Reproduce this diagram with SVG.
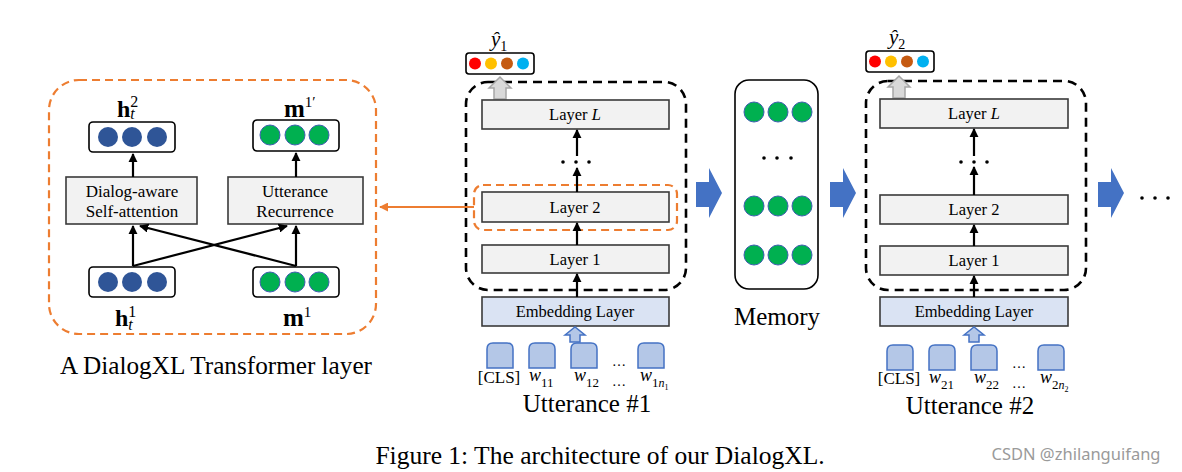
<svg xmlns="http://www.w3.org/2000/svg" width="1182" height="472" viewBox="0 0 1182 472">
<style>
.t{font-family:"Liberation Serif","Times New Roman",serif;fill:#000}
.lay{fill:#f2f2f2;stroke:#3a3a3a;stroke-width:1.6}
.emb{fill:#dae3f3;stroke:#3a3a3a;stroke-width:1.6}
.vec{fill:#fff;stroke:#000;stroke-width:1.6}
.bl{fill:#2f5597}
.gr{fill:#00b050;stroke:#3f5fb0;stroke-width:1}
.ar{stroke:#000;stroke-width:2.2;fill:none;marker-end:url(#ah)}
.bd{fill:none;stroke:#000;stroke-width:2.6;stroke-dasharray:9 6}
.od{fill:none;stroke:#ed7d31;stroke-width:2.2;stroke-dasharray:8 5}
.blk{fill:#4472c4}
.tok{fill:#b4c7e7;stroke:#4472c4;stroke-width:1.5}
.ga{fill:#d9d9d9;stroke:#a6a6a6;stroke-width:1.5}
</style>
<defs>
<marker id="ah" viewBox="0 0 10 10" refX="9" refY="5" markerWidth="4.2" markerHeight="4.2" orient="auto" markerUnits="strokeWidth"><path d="M0,0 L10,5 L0,10 Z" fill="#000"/></marker>
<marker id="oh" viewBox="0 0 10 10" refX="9" refY="5" markerWidth="4.5" markerHeight="4.5" orient="auto" markerUnits="strokeWidth"><path d="M0,0 L10,5 L0,10 Z" fill="#ed7d31"/></marker>
<path id="tk" class="tok" d="M0,25 V6 Q0,0 6,0 H20 Q26,0 26,6 V25 Z"/>
<g id="yv">
<rect x="0" y="0" width="68" height="21" rx="3" fill="#fff" stroke="#000" stroke-width="1.6"/>
<circle cx="9" cy="10.5" r="6" fill="#ff0000"/>
<circle cx="25" cy="10.5" r="6" fill="#ffc000"/>
<circle cx="41" cy="10.5" r="6" fill="#c55a11"/>
<circle cx="57" cy="10.5" r="6" fill="#00b0f0"/>
</g>
<path id="bigarrow" class="blk" d="M0,14 H13 V0 L26,25 L13,50 V39 H0 Z"/>
</defs>

<!-- Left panel: A DialogXL Transformer layer -->
<g id="transformer-layer">
<rect x="49" y="80" width="327" height="254" rx="30" class="od"/>
<text class="t" x="216" y="374" font-size="24.5" text-anchor="middle" textLength="312" lengthAdjust="spacingAndGlyphs">A DialogXL Transformer layer</text>
</g>
<g id="h2">
<rect x="89" y="122" width="86" height="30" rx="4" class="vec"/>
<circle class="bl" cx="108" cy="137" r="10"/><circle class="bl" cx="132" cy="137" r="10"/><circle class="bl" cx="157" cy="137" r="10"/>
<text class="t" x="117" y="117" font-size="24" font-weight="bold">h<tspan font-weight="normal" font-size="16" dy="-10">2</tspan><tspan font-weight="normal" font-size="16" font-style="italic" dx="-8" dy="12">t</tspan></text>
</g>
<g id="m1p">
<rect x="253" y="120" width="86" height="31" rx="4" class="vec"/>
<circle class="gr" cx="270" cy="135" r="10"/><circle class="gr" cx="295" cy="135" r="10"/><circle class="gr" cx="319" cy="135" r="10"/>
<text class="t" x="284" y="117" font-size="25" font-weight="bold">m<tspan font-weight="normal" font-size="15" dy="-10">1′</tspan></text>
</g>
<g id="dialog-attn">
<rect x="66" y="177" width="131" height="47" class="lay"/>
<text class="t" x="132" y="197" font-size="17" text-anchor="middle">Dialog-aware</text>
<text class="t" x="132" y="217" font-size="17" text-anchor="middle">Self-attention</text>
</g>
<g id="utt-rec">
<rect x="228" y="177" width="135" height="47" class="lay"/>
<text class="t" x="295" y="197" font-size="17" text-anchor="middle">Utterance</text>
<text class="t" x="295" y="217" font-size="17" text-anchor="middle">Recurrence</text>
</g>
<g id="h1">
<rect x="89" y="267" width="86" height="30" rx="4" class="vec"/>
<circle class="bl" cx="108" cy="282" r="10"/><circle class="bl" cx="132" cy="282" r="10"/><circle class="bl" cx="157" cy="282" r="10"/>
<text class="t" x="115" y="326" font-size="24" font-weight="bold">h<tspan font-weight="normal" font-size="16" dy="-9">1</tspan><tspan font-weight="normal" font-size="16" font-style="italic" dx="-8" dy="13">t</tspan></text>
</g>
<g id="m1">
<rect x="253" y="267" width="86" height="30" rx="4" class="vec"/>
<circle class="gr" cx="270" cy="282" r="10"/><circle class="gr" cx="295" cy="282" r="10"/><circle class="gr" cx="319" cy="282" r="10"/>
<text class="t" x="283" y="326" font-size="25" font-weight="bold">m<tspan font-weight="normal" font-size="15" dy="-9">1</tspan></text>
</g>

<!-- Middle panel: Utterance #1 -->
<g id="utt1-block">
<rect x="466" y="82" width="220" height="208" rx="22" class="bd"/>
</g>
<g id="y1">
<use href="#yv" x="466" y="53"/>
<text class="t" x="491" y="46" font-size="21" font-style="italic">ŷ<tspan font-style="normal" font-size="14" dy="5">1</tspan></text>
<path class="ga" d="M489,88 L500,77 L511,88 H506 V99 H494 V88 Z"/>
</g>
<g id="u1-layerL"><rect x="482" y="100" width="187" height="29" class="lay"/>
<text class="t" x="575" y="120" font-size="16.5" text-anchor="middle">Layer <tspan font-style="italic">L</tspan></text></g>
<g id="u1-dots"><circle cx="563" cy="162" r="1.8"/><circle cx="576" cy="162" r="1.8"/><circle cx="589" cy="162" r="1.8"/></g>
<g id="u1-layer2"><rect x="474" y="185" width="203" height="45" rx="9" class="od"/>
<rect x="482" y="192" width="187" height="30" class="lay"/>
<text class="t" x="575" y="213" font-size="16.5" text-anchor="middle">Layer 2</text></g>
<g id="u1-layer1"><rect x="482" y="245" width="187" height="28" class="lay"/>
<text class="t" x="575" y="265" font-size="16.5" text-anchor="middle">Layer 1</text></g>
<g id="u1-emb"><rect x="482" y="297" width="187" height="29" class="emb"/>
<text class="t" x="575" y="317" font-size="16.5" text-anchor="middle">Embedding Layer</text>
<path class="tok" d="M565,335 L575,327 L585,335 H580 V342 H570 V335 Z"/></g>
<g id="u1-tokens">
<use href="#tk" x="487" y="343"/><use href="#tk" x="529" y="343"/><use href="#tk" x="571" y="343"/><use href="#tk" x="638" y="343"/>
<text class="t" x="499" y="383" font-size="17" text-anchor="middle">[CLS]</text>
<text class="t" x="529" y="381" font-size="18"><tspan font-style="italic">w</tspan><tspan dy="6" font-size="13">11</tspan></text>
<text class="t" x="574" y="381" font-size="18"><tspan font-style="italic">w</tspan><tspan dy="6" font-size="13">12</tspan></text>
<text class="t" x="640" y="381" font-size="18"><tspan font-style="italic">w</tspan><tspan dy="6" font-size="13">1</tspan><tspan font-size="12" font-style="italic">n</tspan><tspan dy="3" font-size="8">1</tspan></text>
<text class="t" x="619" y="366" font-size="14" text-anchor="middle">…</text>
<text class="t" x="619" y="386" font-size="14" text-anchor="middle">…</text>
<text class="t" x="587" y="412" font-size="25" text-anchor="middle">Utterance #1</text>
</g>

<!-- Memory -->
<g id="memory">
<rect x="735" y="80" width="83" height="209" rx="14" fill="#fff" stroke="#000" stroke-width="1.6"/>
<circle class="gr" cx="754" cy="112" r="10"/><circle class="gr" cx="778" cy="112" r="10"/><circle class="gr" cx="802" cy="112" r="10"/>
<circle cx="764" cy="158" r="1.8"/><circle cx="777" cy="158" r="1.8"/><circle cx="791" cy="158" r="1.8"/>
<circle class="gr" cx="754" cy="206" r="10"/><circle class="gr" cx="778" cy="206" r="10"/><circle class="gr" cx="802" cy="206" r="10"/>
<circle class="gr" cx="754" cy="255" r="10"/><circle class="gr" cx="778" cy="255" r="10"/><circle class="gr" cx="802" cy="255" r="10"/>
<text class="t" x="777" y="325" font-size="25" text-anchor="middle">Memory</text>
</g>

<!-- Right panel: Utterance #2 -->
<g id="utt2-block">
<rect x="866" y="81" width="220" height="209" rx="22" class="bd"/>
</g>
<g id="y2">
<use href="#yv" x="866" y="51"/>
<text class="t" x="889" y="44" font-size="21" font-style="italic">ŷ<tspan font-style="normal" font-size="14" dy="5">2</tspan></text>
<path class="ga" d="M888,87 L899,76 L910,87 H905 V98 H893 V87 Z"/>
</g>
<g id="u2-layerL"><rect x="880" y="99" width="188" height="29" class="lay"/>
<text class="t" x="974" y="119" font-size="16.5" text-anchor="middle">Layer <tspan font-style="italic">L</tspan></text></g>
<g id="u2-dots"><circle cx="961" cy="162" r="1.8"/><circle cx="974" cy="162" r="1.8"/><circle cx="987" cy="162" r="1.8"/></g>
<g id="u2-layer2"><rect x="880" y="195" width="188" height="29" class="lay"/>
<text class="t" x="974" y="215" font-size="16.5" text-anchor="middle">Layer 2</text></g>
<g id="u2-layer1"><rect x="880" y="246" width="188" height="29" class="lay"/>
<text class="t" x="974" y="266" font-size="16.5" text-anchor="middle">Layer 1</text></g>
<g id="u2-emb"><rect x="880" y="297" width="188" height="29" class="emb"/>
<text class="t" x="974" y="317" font-size="16.5" text-anchor="middle">Embedding Layer</text>
<path class="tok" d="M964,335 L974,327 L984,335 H979 V342 H969 V335 Z"/></g>
<g id="u2-tokens">
<use href="#tk" x="887" y="345"/><use href="#tk" x="929" y="345"/><use href="#tk" x="971" y="345"/><use href="#tk" x="1038" y="345"/>
<text class="t" x="899" y="384" font-size="17" text-anchor="middle">[CLS]</text>
<text class="t" x="929" y="383" font-size="18"><tspan font-style="italic">w</tspan><tspan dy="6" font-size="13">21</tspan></text>
<text class="t" x="974" y="383" font-size="18"><tspan font-style="italic">w</tspan><tspan dy="6" font-size="13">22</tspan></text>
<text class="t" x="1040" y="383" font-size="18"><tspan font-style="italic">w</tspan><tspan dy="6" font-size="13">2</tspan><tspan font-size="12" font-style="italic">n</tspan><tspan dy="3" font-size="8">2</tspan></text>
<text class="t" x="1019" y="368" font-size="14" text-anchor="middle">…</text>
<text class="t" x="1019" y="388" font-size="14" text-anchor="middle">…</text>
<text class="t" x="970" y="414" font-size="25" text-anchor="middle">Utterance #2</text>
</g>

<g id="tail-dots"><circle cx="1142" cy="198" r="1.8"/><circle cx="1155" cy="198" r="1.8"/><circle cx="1168" cy="198" r="1.8"/></g>

<!-- Connectors -->
<g id="connectors">
<line class="ar" x1="133" y1="266" x2="133" y2="226"/>
<line class="ar" x1="296" y1="266" x2="296" y2="226"/>
<line class="ar" x1="133" y1="266" x2="287" y2="226"/>
<line class="ar" x1="296" y1="266" x2="140" y2="226"/>
<line class="ar" x1="133" y1="177" x2="133" y2="154"/>
<line class="ar" x1="296" y1="177" x2="296" y2="153"/>
<line x1="474" y1="207" x2="380" y2="207" stroke="#ed7d31" stroke-width="2" marker-end="url(#oh)"/>
<line class="ar" x1="577" y1="297" x2="577" y2="274"/>
<line class="ar" x1="577" y1="245" x2="577" y2="223"/>
<line class="ar" x1="577" y1="192" x2="577" y2="168"/>
<line class="ar" x1="577" y1="156" x2="577" y2="130"/>
<line class="ar" x1="974" y1="297" x2="974" y2="276"/>
<line class="ar" x1="974" y1="246" x2="974" y2="225"/>
<line class="ar" x1="974" y1="195" x2="974" y2="167"/>
<line class="ar" x1="974" y1="156" x2="974" y2="129"/>
<use href="#bigarrow" x="696" y="168"/>
<use href="#bigarrow" x="830" y="168"/>
<use href="#bigarrow" x="1098" y="168"/>
</g>

<text class="t" x="600" y="464" font-size="25.5" text-anchor="middle">Figure 1: The architecture of our DialogXL.</text>
<text x="1076" y="460" font-family="'Noto Sans','Liberation Sans',sans-serif" font-size="16.5" fill="#9a9a9a" text-anchor="middle">CSDN @zhilanguifang</text>
</svg>
